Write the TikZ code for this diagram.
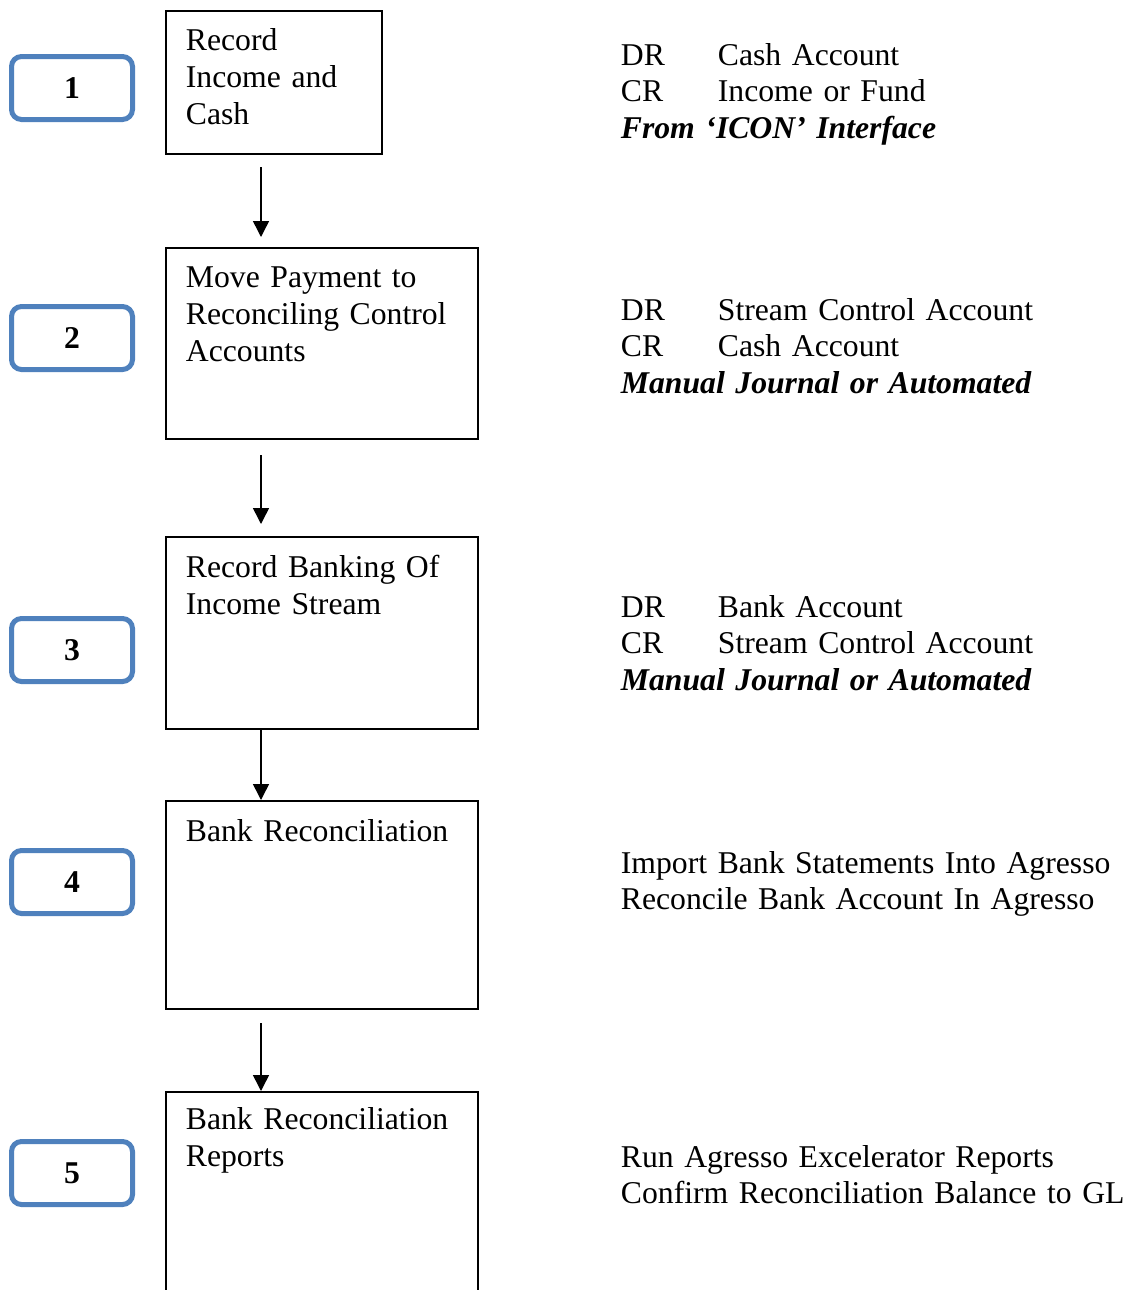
\documentclass[tikz,border=0pt]{standalone}
\usepackage{fontspec}
\setmainfont[WordSpace=0.72]{Liberation Serif}
\usetikzlibrary{arrows.meta}
\definecolor{numblue}{RGB}{79, 129, 189}
\newcommand{\chartfont}{\fontsize{15.85}{18.5}\selectfont}
\newcommand{\entryfont}{\fontsize{15.85}{18.25}\selectfont}
\newcommand{\acct}[2]{\makebox[48.5pt][l]{#1}#2}

\begin{document}
\begin{tikzpicture}[x=0.5pt, y=-0.5pt, font=\chartfont,
    numbox/.style={draw=numblue, line width=2.5pt, rounded corners=5pt, minimum width=60.5pt, minimum height=31.5pt, inner sep=0pt, font=\chartfont\bfseries},
    stepbox/.style={draw, line width=1pt, anchor=north west, inner sep=0pt, minimum width=156pt},
    steptext/.style={anchor=base west, inner sep=0pt, text width=140pt, align=left},
    entry/.style={anchor=base west, inner sep=0pt, text width=260pt, align=left, font=\entryfont},
    flow/.style={-{Triangle[length=8pt, width=8pt]}, line width=0.75pt}]
    \useasboundingbox (0, 0) rectangle (1124, 1290);
    \clip (0, 0) rectangle (1124, 1290);

    % Step numbers
    \node[numbox] (n1) at (72, 88) {1};
    \node[numbox] (n2) at (72, 338) {2};
    \node[numbox] (n3) at (72, 650) {3};
    \node[numbox] (n4) at (72, 882) {4};
    \node[numbox] (n5) at (72, 1173) {5};

    % Process boxes (the last one runs off the page)
    \node[stepbox, minimum width=108pt, minimum height=71.5pt] (s1) at (165, 10) {};
    \node[stepbox, minimum height=95.5pt] (s2) at (165, 247) {};
    \node[stepbox, minimum height=96pt] (s3) at (165, 536) {};
    \node[stepbox, minimum height=104pt] (s4) at (165, 800) {};
    \node[stepbox, minimum height=130pt] (s5) at (165, 1091) {};

    \node[steptext] (t1) at (185.5, 50) {Record\\Income and\\Cash};
    \node[steptext] (t2) at (185.5, 287) {Move Payment to\\Reconciling Control\\Accounts};
    \node[steptext] (t3) at (185.5, 577) {Record Banking Of\\Income Stream};
    \node[steptext] (t4) at (185.5, 841) {Bank Reconciliation};
    \node[steptext] (t5) at (185.5, 1129) {Bank Reconciliation\\Reports};

    % Flow between the boxes
    \coordinate (spine) at (261, 0);
    \draw[flow, shorten <=6pt, shorten >=5pt] (s1.south -| spine) -- (s2.north -| spine);
    \draw[flow, shorten <=7.5pt, shorten >=6pt] (s2.south -| spine) -- (s3.north -| spine);
    \draw[flow] (s3.south -| spine) -- (s4.north -| spine);
    \draw[flow, shorten <=6.5pt] (s4.south -| spine) -- (s5.north -| spine);

    % Postings for each step
    \node[entry] (e1) at (620.5, 65) {\acct{DR}{Cash Account}\\ \acct{CR}{Income or Fund}\\ \textbf{\textit{From ‘ICON’ Interface}}};
    \node[entry] (e2) at (620.5, 320) {\acct{DR}{Stream Control Account}\\ \acct{CR}{Cash Account}\\ \textbf{\textit{Manual Journal or Automated}}};
    \node[entry] (e3) at (620.5, 617) {\acct{DR}{Bank Account}\\ \acct{CR}{Stream Control Account}\\ \textbf{\textit{Manual Journal or Automated}}};
    \node[entry] (e4) at (620.5, 873) {Import Bank Statements Into Agresso\\ Reconcile Bank Account In Agresso};
    \node[entry] (e5) at (620.5, 1167) {Run Agresso Excelerator Reports\\ Confirm Reconciliation Balance to GL};
\end{tikzpicture}
\end{document}
